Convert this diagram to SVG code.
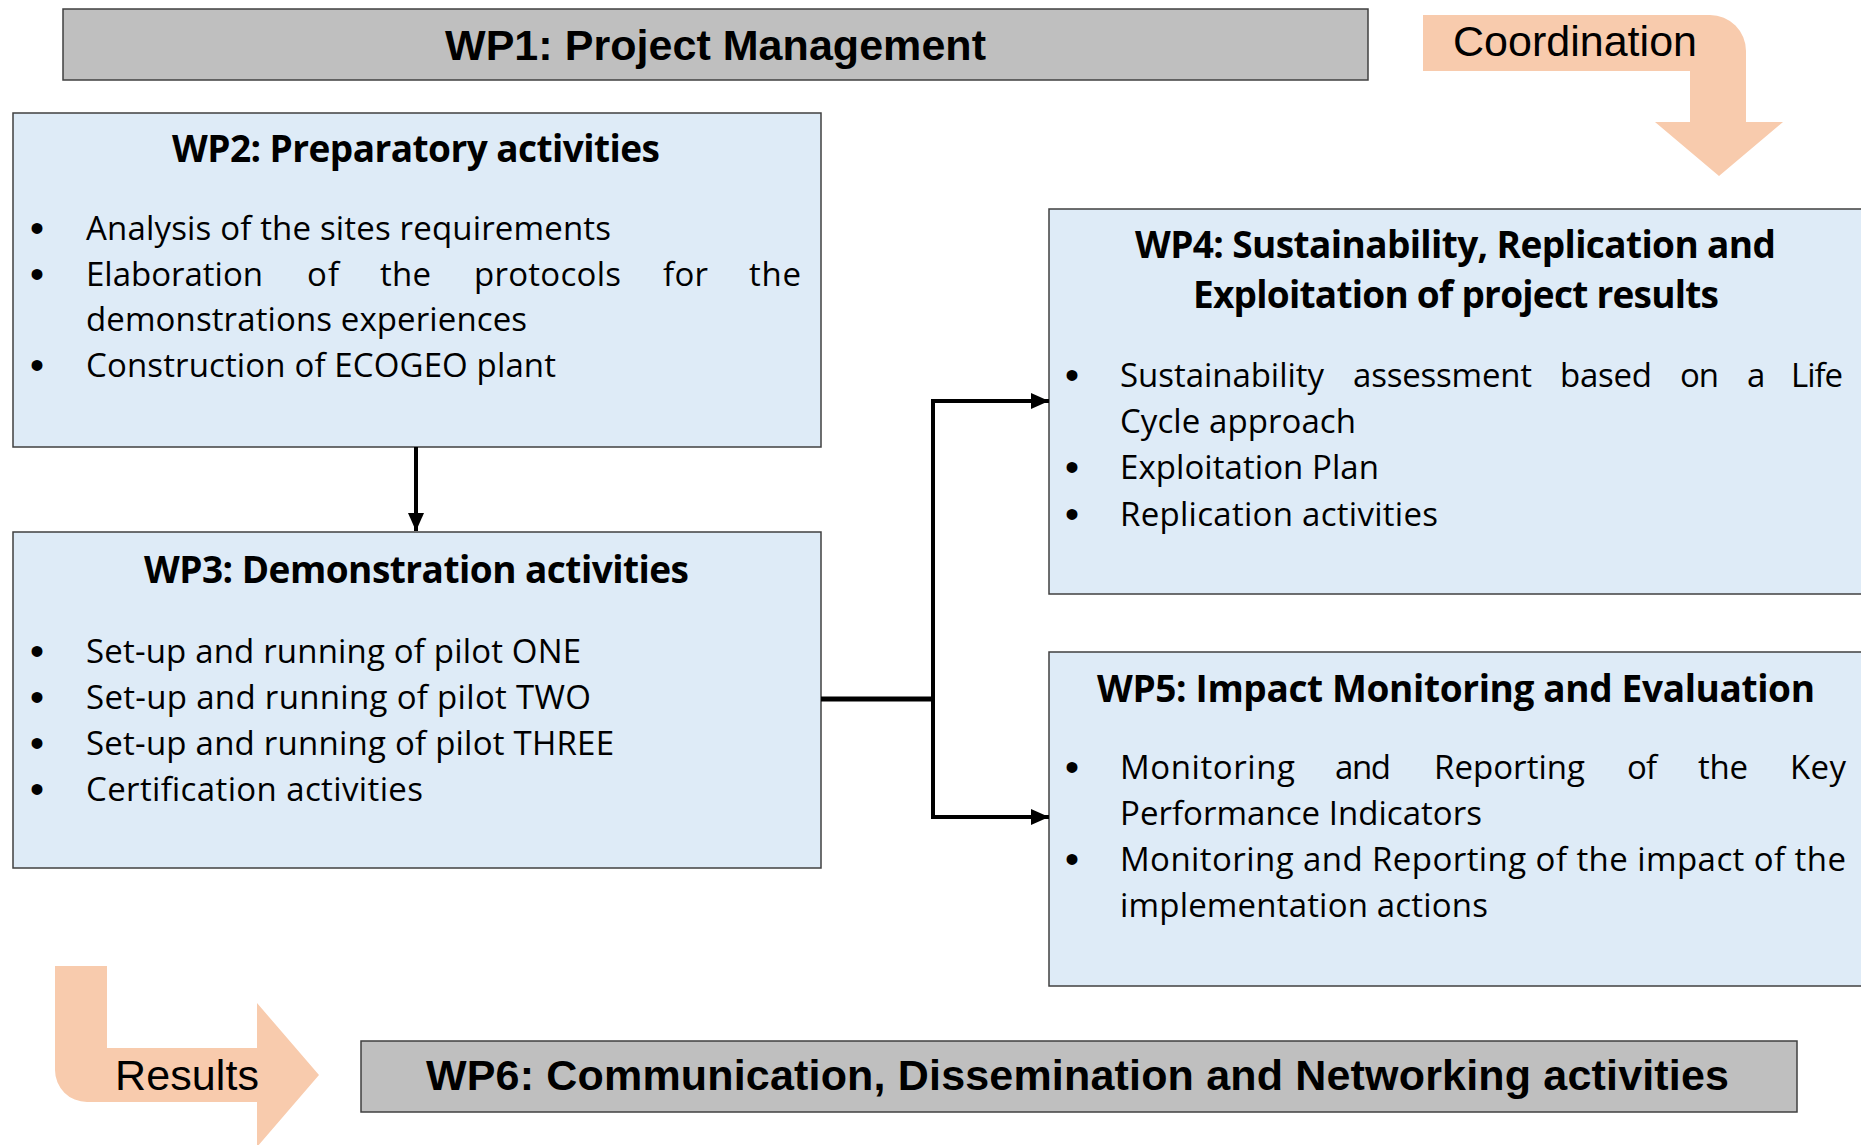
<svg xmlns="http://www.w3.org/2000/svg" width="1861" height="1145" viewBox="0 0 1861 1145">
<style>
.box{fill:#DEEBF7;stroke:#404040;stroke-width:1.5}
.gbox{fill:#BFBFBF;stroke:#404040;stroke-width:1.5}
.t{font-family:'Open Sans','Noto Sans',sans-serif;font-size:33px;fill:#000}
.h{font-family:'Open Sans','Noto Sans',sans-serif;font-size:37px;font-weight:bold;text-anchor:middle;fill:#000}
.b{font-family:'Liberation Sans',Arial,sans-serif;font-size:40px;text-anchor:middle;fill:#000}
.big{font-family:'Liberation Sans',Arial,sans-serif;font-size:43px;font-weight:bold;text-anchor:middle;fill:#000}
.lab{font-family:'Liberation Sans',Arial,sans-serif;font-size:43px;fill:#000}
.arr{fill:#F8CBAD}
.conn{fill:none;stroke:#000;stroke-width:4;stroke-linejoin:miter}
</style>
<defs>
<marker id="ah" markerUnits="userSpaceOnUse" markerWidth="20" markerHeight="18" refX="18" refY="8" orient="auto">
<path d="M0,0 L18,8 L0,16 z" fill="#000"/>
</marker>
</defs>
<rect width="1861" height="1145" fill="#fff"/>

<g id="coordination">
<path class="arr" d="M1423,15 L1710,15 A36,36 0 0 1 1746,51 L1746,122 L1783,122 L1719,176 L1655,122 L1690,122 L1690,71 L1423,71 Z"/>
<text class="lab" x="1453" y="56" textLength="244">Coordination</text>
</g>

<g id="results">
<path class="arr" d="M55,966 L107,966 L107,1048 L257,1048 L257,1003 L319,1075 L257,1147 L257,1102 L87,1102 A32,32 0 0 1 55,1070 Z"/>
<text class="lab" x="115" y="1090" textLength="144">Results</text>
</g>

<g id="wp1">
<rect class="gbox" x="63" y="9" width="1305" height="71"/>
<text class="big" x="715.5" y="60" textLength="541">WP1: Project Management</text>
</g>

<g id="wp2">
<rect class="box" x="13" y="113" width="808" height="334"/>
<text class="h" x="416" y="162" textLength="488">WP2: Preparatory activities</text>
<text class="b" x="37" y="241.5">•</text>
<text class="b" x="37" y="287.5">•</text>
<text class="b" x="37" y="378.5">•</text>
<text class="t" x="86" y="240" textLength="525">Analysis of the sites requirements</text>
<text class="t" x="86" y="286" textLength="177">Elaboration</text>
<text class="t" x="307" y="286" textLength="32">of</text>
<text class="t" x="380" y="286" textLength="51">the</text>
<text class="t" x="474" y="286" textLength="147">protocols</text>
<text class="t" x="663" y="286" textLength="45">for</text>
<text class="t" x="749" y="286" textLength="52">the</text>
<text class="t" x="86" y="331" textLength="441">demonstrations experiences</text>
<text class="t" x="86" y="377" textLength="470">Construction of ECOGEO plant</text>
</g>

<g id="wp3">
<rect class="box" x="13" y="532" width="808" height="336"/>
<text class="h" x="416.5" y="583" textLength="545">WP3: Demonstration activities</text>
<text class="b" x="37" y="664.5">•</text>
<text class="b" x="37" y="710.5">•</text>
<text class="b" x="37" y="756.5">•</text>
<text class="b" x="37" y="802.5">•</text>
<text class="t" x="86" y="663" textLength="495">Set-up and running of pilot ONE</text>
<text class="t" x="86" y="709" textLength="505">Set-up and running of pilot TWO</text>
<text class="t" x="86" y="755" textLength="528">Set-up and running of pilot THREE</text>
<text class="t" x="86" y="801" textLength="337">Certification activities</text>
</g>

<g id="wp4">
<rect class="box" x="1049" y="209" width="820" height="385"/>
<text class="h" x="1455.5" y="258" textLength="641">WP4: Sustainability, Replication and</text>
<text class="h" x="1456" y="308" textLength="526">Exploitation of project results</text>
<text class="b" x="1072" y="388.5">•</text>
<text class="b" x="1072" y="480.5">•</text>
<text class="b" x="1072" y="527.5">•</text>
<text class="t" x="1120" y="387" textLength="204">Sustainability</text>
<text class="t" x="1353" y="387" textLength="179">assessment</text>
<text class="t" x="1560" y="387" textLength="92">based</text>
<text class="t" x="1680" y="387" textLength="39">on</text>
<text class="t" x="1747" y="387" textLength="16">a</text>
<text class="t" x="1791" y="387" textLength="52">Life</text>
<text class="t" x="1120" y="433" textLength="236">Cycle approach</text>
<text class="t" x="1120" y="479" textLength="259">Exploitation Plan</text>
<text class="t" x="1120" y="526" textLength="318">Replication activities</text>
</g>

<g id="wp5">
<rect class="box" x="1049" y="652" width="820" height="334"/>
<text class="h" x="1456" y="702" textLength="718">WP5: Impact Monitoring and Evaluation</text>
<text class="b" x="1072" y="780.5">•</text>
<text class="b" x="1072" y="872.5">•</text>
<text class="t" x="1120" y="779" textLength="175">Monitoring</text>
<text class="t" x="1335" y="779" textLength="56">and</text>
<text class="t" x="1434" y="779" textLength="151">Reporting</text>
<text class="t" x="1627" y="779" textLength="30">of</text>
<text class="t" x="1698" y="779" textLength="50">the</text>
<text class="t" x="1790" y="779" textLength="56">Key</text>
<text class="t" x="1120" y="825" textLength="362">Performance Indicators</text>
<text class="t" x="1120" y="871" textLength="726">Monitoring and Reporting of the impact of the</text>
<text class="t" x="1120" y="917" textLength="368">implementation actions</text>
</g>

<g id="wp6">
<rect class="gbox" x="361" y="1041" width="1436" height="71"/>
<text class="big" x="1077.5" y="1090" textLength="1303">WP6: Communication, Dissemination and Networking activities</text>
</g>

<g id="connectors">
<path class="conn" d="M416,447 V531" marker-end="url(#ah)"/>
<path class="conn" d="M821,699 H933" style="stroke-width:5"/>
<path class="conn" d="M933,701 V401 H1049" marker-end="url(#ah)"/>
<path class="conn" d="M933,697 V817 H1049" marker-end="url(#ah)"/>
</g>
</svg>
